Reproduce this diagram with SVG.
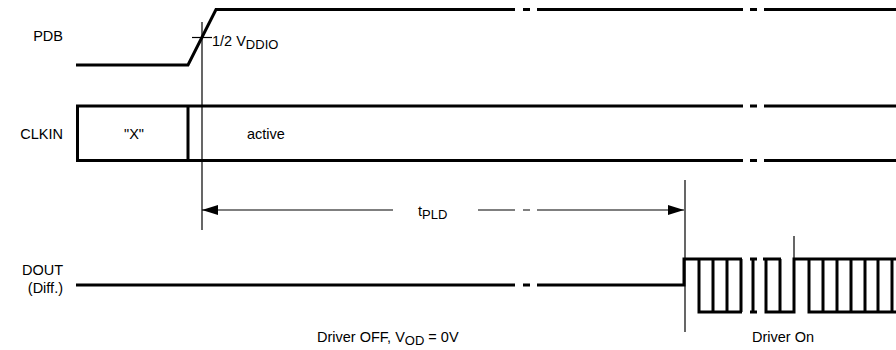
<svg xmlns="http://www.w3.org/2000/svg" width="896" height="350" viewBox="0 0 896 350">
<style>
.thick{fill:none;stroke:#000;stroke-width:3;stroke-linejoin:miter;stroke-linecap:butt}
.thin{fill:none;stroke:#000;stroke-width:1.2}
.lbl{font-family:"Liberation Sans",Arial,sans-serif;font-size:14.5px;fill:#000}
.sub{font-size:13px}
</style>
<defs>
<marker id="ah" viewBox="0 0 16 10" refX="16" refY="5" markerWidth="16" markerHeight="10" markerUnits="userSpaceOnUse" orient="auto-start-reverse">
<path d="M0,0 L16,5 L0,10 Z" fill="#000"/>
</marker>
</defs>
<rect width="896" height="350" fill="#fff"/>
<g id="labels">
<text class="lbl" x="63" y="41" text-anchor="end">PDB</text>
<text class="lbl" x="63" y="139" text-anchor="end">CLKIN</text>
<text class="lbl" x="63" y="275" text-anchor="end">DOUT</text>
<text class="lbl" x="63" y="293" text-anchor="end">(Diff.)</text>
</g>
<g id="pdb">
<path class="thick" d="M76,65 H188 L216,9.5 H515 M523,9.5 H530 M537,9.5 H743 M750,9.5 H757 M764,9.5 H896"/>
<path class="thin" d="M192,37.5 H212"/>
<text class="lbl" x="212" y="46">1/2 V<tspan class="sub" dy="3">DDIO</tspan></text>
</g>
<g id="clkin">
<path class="thick" d="M743,106 H77.5 V160.5 H743 M750,106 H757 M764,106 H896 M750,160.5 H757 M764,160.5 H896 M188,106 V160.5"/>
<text class="lbl" x="134" y="139" text-anchor="middle">"X"</text>
<text class="lbl" x="247" y="139">active</text>
</g>
<g id="dout">
<path class="thick" d="M76,285 H515 M523,285 H530 M537,285 H684 V259 H742 M699,259 V312 H742 M713,259 V312 M727,259 V312 M741,259 V312 M753,259 V312 M750,259 H757 M750,312 H757 M763,259 H781 M766,259 V312 H794 V259 H896 M780,259 V312 M809,259 V312 H896 M823,259 V312 M837,259 V312 M851,259 V312 M865,259 V312 M878,259 V312 M892,259 V312"/>
<text class="lbl" x="317" y="342">Driver OFF, V<tspan class="sub" dy="3">OD</tspan><tspan dy="-3"> = 0V</tspan></text>
<text class="lbl" x="752" y="342">Driver On</text>
</g>
<g id="connectors">
<path class="thin" d="M202,22 V230"/>
<path class="thin" d="M685,180 V332"/>
<path class="thin" d="M794,236 V259"/>
<path class="thin" d="M393,210 H202" marker-end="url(#ah)"/>
<path class="thin" d="M478,210 H515 M523,210 H530"/>
<path class="thin" d="M537,210 H684" marker-end="url(#ah)"/>
<text class="lbl" x="418" y="216">t<tspan class="sub" dy="3">PLD</tspan></text>
</g>
</svg>
